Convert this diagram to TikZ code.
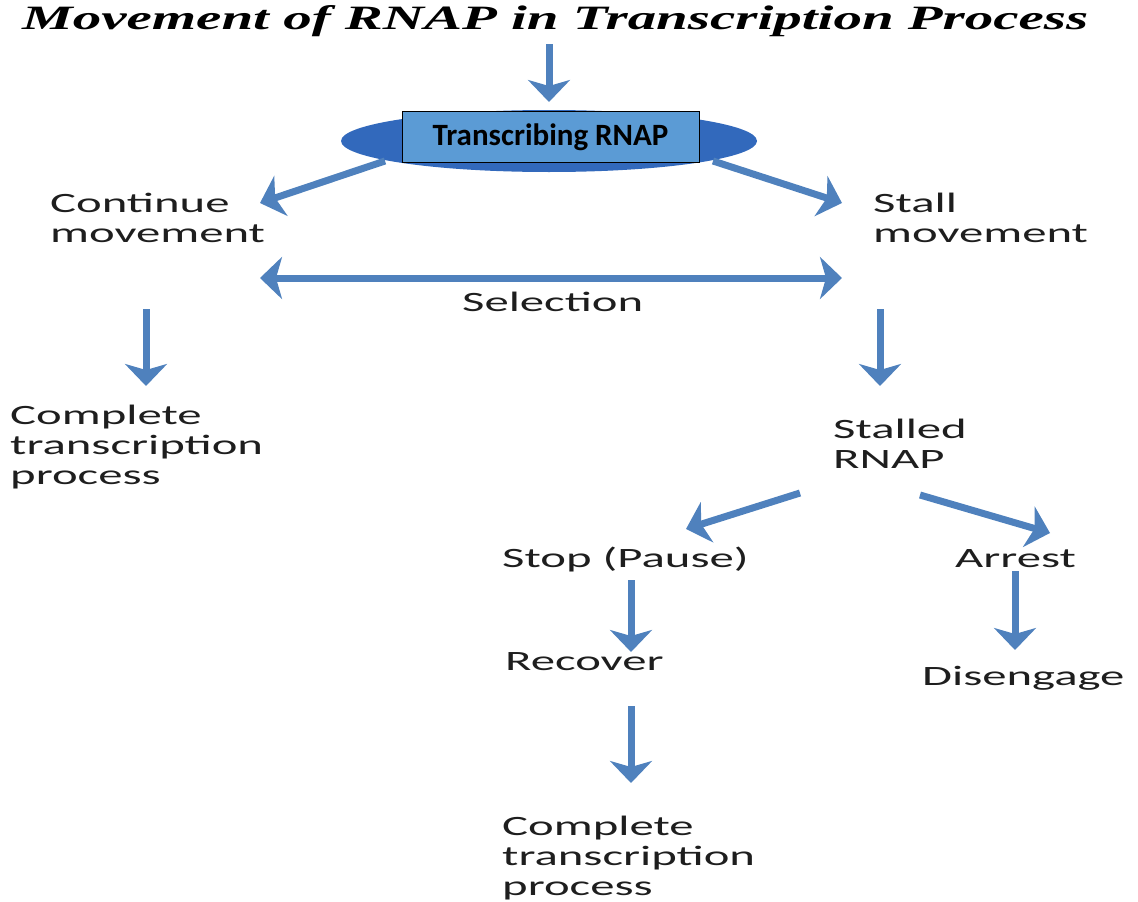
\documentclass[tikz,border=0pt]{standalone}
\usepackage{fontspec}
\usepackage{graphicx}
\usetikzlibrary{arrows.meta}
\newfontfamily\bodyf{Carlito}
\newfontfamily\titlef{Liberation Serif}
\definecolor{arrblue}{RGB}{79,129,189}
\definecolor{ellblue}{RGB}{50,105,188}
\definecolor{boxblue}{RGB}{91,155,213}
\definecolor{txt}{RGB}{30,30,30}
\newcommand\wt[1]{\scalebox{1.74}[1]{\begin{tabular}[t]{@{}l@{}}#1\end{tabular}}}
\tikzset{
  lbl/.style={anchor=base west, inner sep=0pt, text=txt, font=\bodyf\fontsize{28}{30}\selectfont},
  barrow/.style={draw=arrblue, line width=7pt, -{Stealth[width=42pt,length=22pt,inset=6pt]}},
  darrow/.style={draw=arrblue, line width=7pt, {Stealth[width=42pt,length=22pt,inset=6pt]}-{Stealth[width=42pt,length=22pt,inset=6pt]}},
}
\begin{document}
\begin{tikzpicture}[x=1pt,y=-1pt]
\useasboundingbox (0,0) rectangle (1138,902);
% title
\node[anchor=base west, inner sep=0pt] (title) at (22,29)
  {\resizebox{1066pt}{24pt}{\titlef\bfseries\itshape Movement of RNAP in Transcription Process}};
% central ellipse + box
\fill[ellblue] (549,141) ellipse [x radius=208, y radius=31];
\node[draw=black, line width=1pt, fill=boxblue, minimum width=297pt, minimum height=51pt, inner sep=0pt,
  font=\bodyf\bfseries\fontsize{31}{34}\selectfont] (trnap) at (550.5,137) {Transcribing RNAP};
% labels
\node[lbl] (cont) at (50,212) {\wt{Continue\\movement}};
\node[lbl] (stall) at (873,212) {\wt{Stall\\movement}};
\node[lbl] (sel) at (462,311) {\wt{Selection}};
\node[lbl] (comp1) at (10,424) {\wt{Complete\\transcription\\process}};
\node[lbl] (srnap) at (833,438) {\wt{Stalled\\RNAP}};
\node[lbl] (stop) at (502,567) {\wt{Stop (Pause)}};
\node[lbl] (arrest) at (955,567) {\wt{Arrest}};
\node[lbl] (recover) at (505,670) {\wt{Recover}};
\node[lbl] (diseng) at (922,685) {\wt{Disengage}};
\node[lbl] (comp2) at (502,835) {\wt{Complete\\transcription\\process}};
% arrow end points
\coordinate (t0) at (549,44);   \coordinate (h0) at (549,102);
\coordinate (t1) at (385,161);  \coordinate (h1) at (260,203);
\coordinate (t2) at (713,161);  \coordinate (h2) at (842,203);
\coordinate (s1) at (260,278);  \coordinate (s2) at (842,278);
\coordinate (t3) at (146,309);  \coordinate (h3) at (146,386);
\coordinate (t4) at (880,309);  \coordinate (h4) at (880,386);
\coordinate (t5) at (800,493);  \coordinate (h5) at (686,529);
\coordinate (t6) at (920,495);  \coordinate (h6) at (1050,533);
\coordinate (t7) at (631,580);  \coordinate (h7) at (631,652);
\coordinate (t8) at (1015,571); \coordinate (h8) at (1015,650);
\coordinate (t9) at (631,706);  \coordinate (h9) at (631,783);
\draw[barrow] (t0) -- (h0);
\draw[barrow] (t1) -- (h1);
\draw[barrow] (t2) -- (h2);
\draw[darrow] (s1) -- (s2);
\draw[barrow] (t3) -- (h3);
\draw[barrow] (t4) -- (h4);
\draw[barrow] (t5) -- (h5);
\draw[barrow] (t6) -- (h6);
\draw[barrow] (t7) -- (h7);
\draw[barrow] (t8) -- (h8);
\draw[barrow] (t9) -- (h9);
\end{tikzpicture}
\end{document}
